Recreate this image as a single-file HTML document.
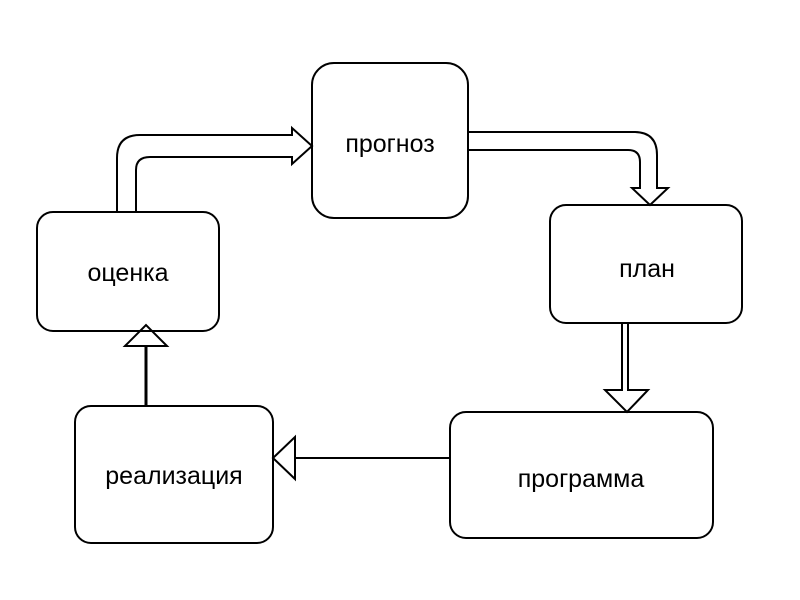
<!DOCTYPE html>
<html><head><meta charset="utf-8"><style>html,body{margin:0;padding:0;background:#fff}</style></head>
<body>
<svg width="800" height="600" xmlns="http://www.w3.org/2000/svg" style="display:block">
<g fill="none" stroke="#000" stroke-width="2">
<rect x="312" y="63" width="156" height="155" rx="22"/>
<rect x="37" y="212" width="182" height="119" rx="16"/>
<rect x="550" y="205" width="192" height="118" rx="16"/>
<rect x="450" y="412" width="263" height="126" rx="16"/>
<rect x="75" y="406" width="198" height="137" rx="16"/>
<path d="M117 212 V158 Q117 135 140 135 H292 V128 L312 146 L292 164 V157 H150 Q136 157 136 170 V212"/>
<path d="M468 132 H634 Q657 132 657 155 V188 H668 L650 205 L632 188 H640 V162 Q640 150 628 150 H468"/>
<path d="M622 323 V390 H605 L627 412 L648 390 H628 V323"/>
<path d="M450 458 H295"/>
<path d="M295 437 L273 458 L295 479 Z"/>
<path d="M146 406 V346" stroke-width="3"/>
<path d="M125 346 L146 325 L167 346 Z"/>
</g>
<g font-family="Liberation Sans, sans-serif" font-size="25" text-anchor="middle" fill="#000">
<text x="390" y="152">прогноз</text>
<text x="128" y="281">оценка</text>
<text x="647" y="277">план</text>
<text x="581" y="487">программа</text>
<text x="174" y="484">реализация</text>
</g>
</svg>
</body></html>
